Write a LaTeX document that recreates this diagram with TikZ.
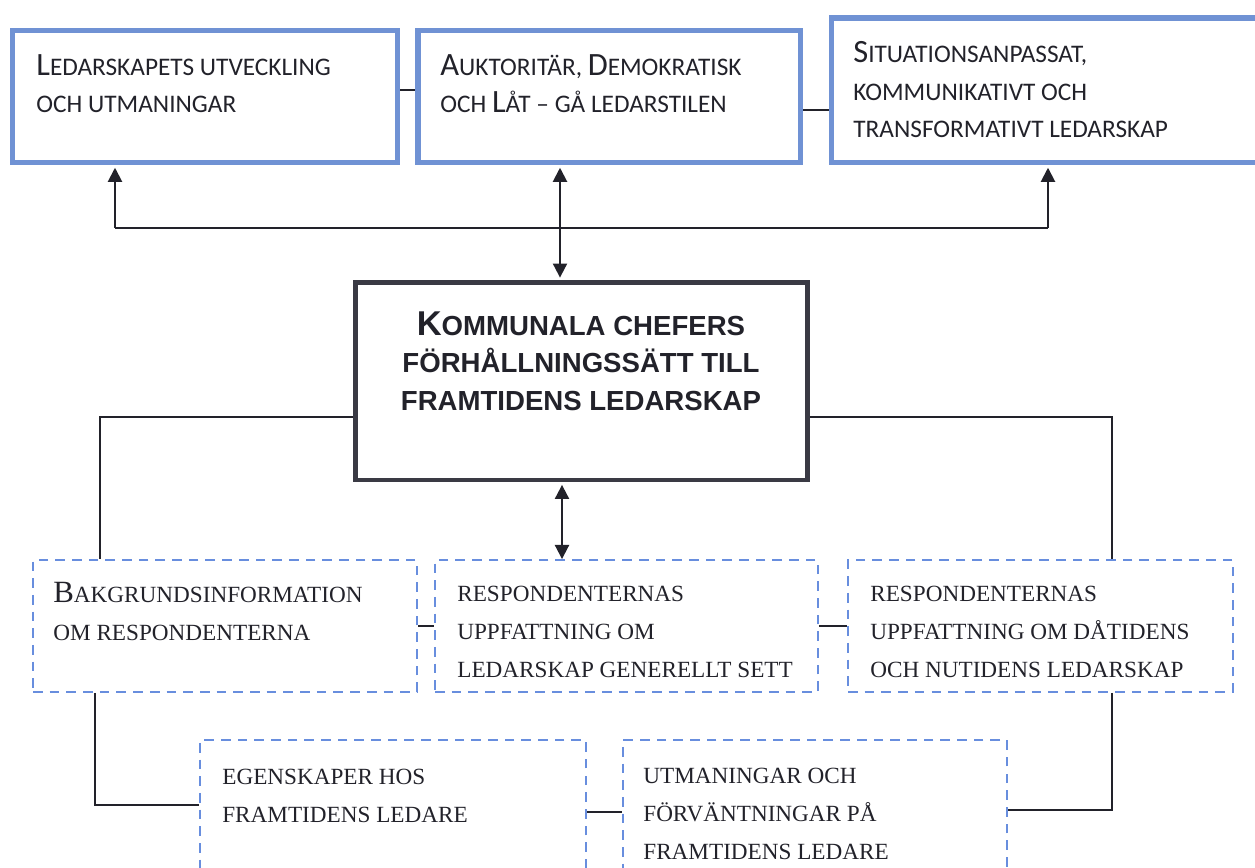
\documentclass[tikz,border=0pt]{standalone}
\usepackage{fontspec}
\usetikzlibrary{arrows.meta}

\newfontfamily\calfont{Carlito}
\newfontfamily\arialfont{Liberation Sans}
\newfontfamily\camfont{Liberation Serif}

\definecolor{topblue}{RGB}{112,146,212}
\definecolor{dashblue}{RGB}{104,142,222}
\definecolor{coreline}{RGB}{58,58,68}
\definecolor{ink}{RGB}{34,34,42}

% bigger first letter (small caps look)
\newcommand\ini[1]{{\fontsize{\inisz}{0pt}\selectfont #1}}

\begin{document}
\begin{tikzpicture}[x=0.02cm, y=-0.02cm, >={Triangle[width=8pt,length=8pt]}]
% --- Global Styles ---
\tikzstyle{topbox} = [draw=topblue, line width=3pt, inner sep=0pt]
\tikzstyle{corebox} = [draw=coreline, line width=2.8pt, inner sep=0pt]
\tikzstyle{dashbox} = [draw=dashblue, line width=1.1pt, dash pattern=on 5.5pt off 4pt, inner sep=0pt]
\tikzstyle{conn} = [draw=ink, line width=1.1pt]
% text nodes sit on the baseline of their last line
\tikzstyle{toptext} = [anchor=base west, inner sep=0pt, text=ink, align=left,
  font=\calfont\fontsize{14.4}{21.5}\selectfont\def\inisz{18.5}]
\tikzstyle{coretext} = [anchor=base, inner sep=0pt, text=ink, align=center,
  font=\arialfont\bfseries\fontsize{15.7}{21.2}\selectfont\def\inisz{19.6}]
\tikzstyle{lowtext} = [anchor=base west, inner sep=0pt, text=ink, align=left,
  font=\camfont\fontsize{13.2}{21.4}\selectfont\def\inisz{17.6}]

\useasboundingbox (0,0) rectangle (1255,868);

% ==========================================
% TOP ROW
% ==========================================
\node[topbox, minimum width=7.7cm, minimum height=2.64cm] (utv) at (205,96.5) {};
\node[topbox, minimum width=7.65cm, minimum height=2.64cm] (stil) at (609.25,96.5) {};
\node[topbox, minimum width=8.66cm, minimum height=2.89cm] (sit) at (1048,90.25) {};

\node[toptext] (utvtext) at (36,113) {\ini{L}EDARSKAPETS UTVECKLING\\OCH UTMANINGAR};
\node[toptext] (stiltext) at (440,113) {\ini{A}UKTORITÄR, \ini{D}EMOKRATISK\\OCH \ini{L}ÅT – GÅ LEDARSTILEN};
\node[toptext] (sittext) at (853,138) {\ini{S}ITUATIONSANPASSAT,\\KOMMUNIKATIVT OCH\\TRANSFORMATIVT LEDARSKAP};

% short links between the top boxes
\coordinate (s0) at ([yshift=0.13cm]utv.east);
\coordinate (s1) at ([yshift=-0.27cm]stil.east);
\draw[conn] (s0) -- (s0 -| stil.west);
\draw[conn] (s1) -- (s1 -| sit.west);

% ==========================================
% CORE BOX
% ==========================================
\node[corebox, minimum width=9.04cm, minimum height=3.95cm] (core) at (581.5,381.25) {};
\node[coretext] (coretext) at (581,410) {\ini{K}OMMUNALA CHEFERS\\FÖRHÅLLNINGSSÄTT TILL\\FRAMTIDENS LEDARSKAP};

% bus from the core up to the top row
\coordinate (tA) at (115,228);
\coordinate (tC) at (1048,228);
\coordinate (bus) at (560,228);
\draw[conn] (tA) -- (tC);
\draw[conn, ->, shorten >=1.5pt] (tA) -- (tA |- utv.south);
\draw[conn, ->, shorten >=1.5pt] (tC) -- (tC |- sit.south);
\draw[conn, <->, shorten >=1.4pt, shorten <=1.5pt] (bus |- stil.south) -- (bus |- core.north);

% ==========================================
% MIDDLE ROW (dashed)
% ==========================================
\node[dashbox, minimum width=7.68cm, minimum height=2.64cm] (bak) at (225,626) {};
\node[dashbox, minimum width=7.66cm, minimum height=2.64cm] (gen) at (626.5,626) {};
\node[dashbox, minimum width=7.7cm, minimum height=2.64cm] (dat) at (1040.5,626) {};

\node[lowtext] (baktext) at (53,640) {\ini{B}AKGRUNDSINFORMATION\\OM RESPONDENTERNA};
\node[lowtext] (gentext) at (457,677) {RESPONDENTERNAS\\UPPFATTNING OM\\LEDARSKAP GENERELLT SETT};
\node[lowtext] (dattext) at (870,677) {RESPONDENTERNAS\\UPPFATTNING OM DÅTIDENS\\OCH NUTIDENS LEDARSKAP};

\draw[conn] (bak.east) -- (gen.west);
\draw[conn] (gen.east) -- (dat.west);

% links from the core down to the middle row
\coordinate (cl) at (100,417);
\coordinate (cr) at (1112,417);
\coordinate (mb) at (562,520);
\draw[conn] (cl -| core.west) -- (cl) -- (cl |- bak.north);
\draw[conn] (cr -| core.east) -- (cr) -- (cr |- dat.north);
\draw[conn, <->, shorten <=1.4pt] (mb |- core.south) -- (mb |- gen.north);

% ==========================================
% BOTTOM ROW (dashed)
% ==========================================
\node[dashbox, minimum width=7.72cm, minimum height=3.2cm] (egen) at (393,820) {};
\node[dashbox, minimum width=7.68cm, minimum height=3.2cm] (utm) at (815,820) {};

\node[lowtext] (egentext) at (222,822) {EGENSKAPER HOS\\FRAMTIDENS LEDARE};
\node[lowtext] (utmtext) at (643,859) {UTMANINGAR OCH\\FÖRVÄNTNINGAR PÅ\\FRAMTIDENS LEDARE};

\coordinate (bl) at (95,805);
\coordinate (br) at (1112,810);
\coordinate (eu) at (600,812);
\draw[conn] (bl |- bak.south) -- (bl) -- (bl -| egen.west);
\draw[conn] (br |- dat.south) -- (br) -- (br -| utm.east);
\draw[conn] (eu -| egen.east) -- (eu -| utm.west);

\end{tikzpicture}
\end{document}
